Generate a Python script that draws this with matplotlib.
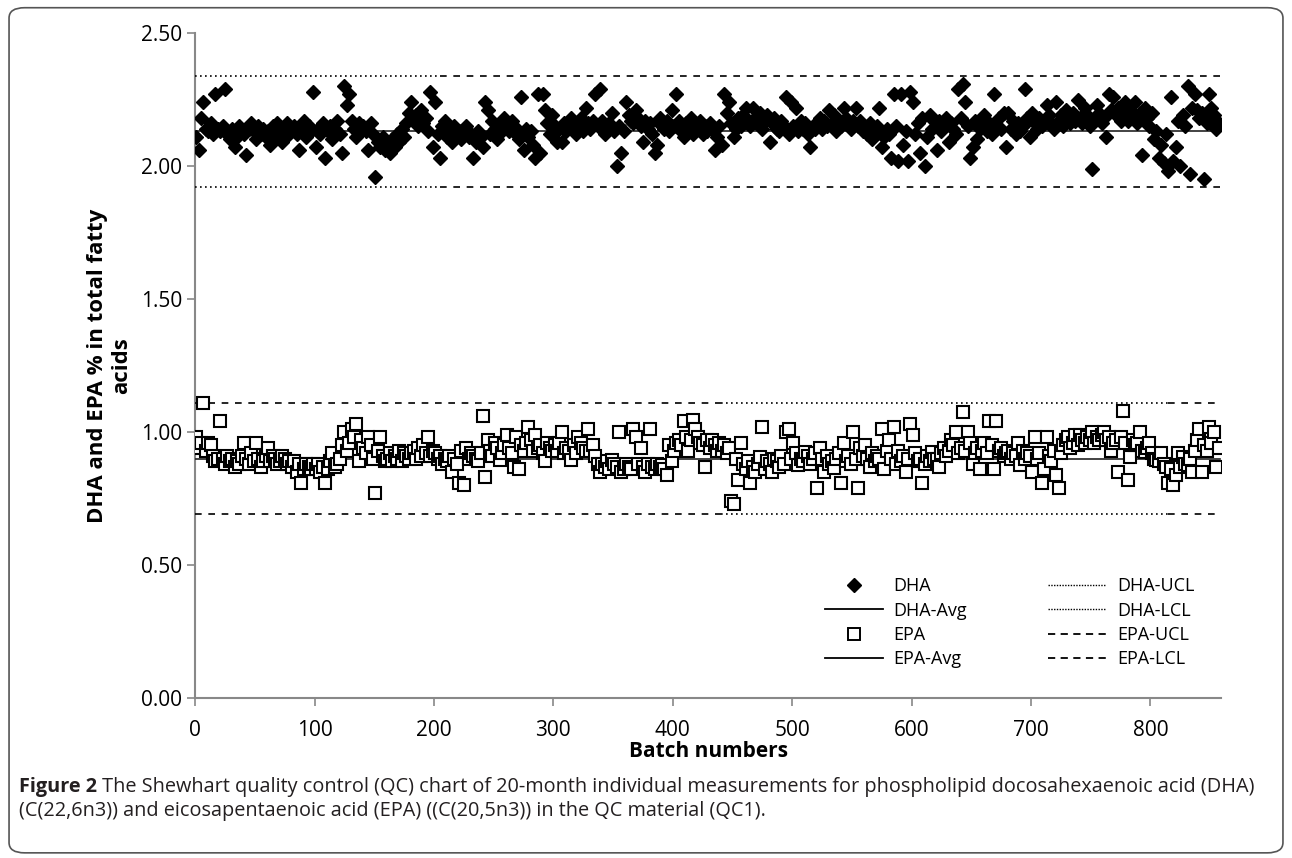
import numpy as np
import matplotlib.pyplot as plt
from matplotlib.lines import Line2D
from matplotlib.patches import FancyBboxPatch

plt.rcParams['font.family'] = ['Open Sans', 'DejaVu Sans']

# Batch numbers (every second batch)
batch = np.arange(1, 858, 2)

# DHA % in total fatty acids
dha = [
    2.11, 2.06, 2.18, 2.24, 2.14, 2.13, 2.16, 2.12, 2.27, 2.14,
    2.13, 2.15, 2.29, 2.12, 2.10, 2.14, 2.07, 2.11, 2.15, 2.13,
    2.12, 2.04, 2.14, 2.16, 2.13, 2.10, 2.15, 2.12, 2.14, 2.11,
    2.13, 2.08, 2.15, 2.11, 2.16, 2.12, 2.09, 2.14, 2.16, 2.12,
    2.14, 2.15, 2.12, 2.06, 2.13, 2.17, 2.11, 2.15, 2.13, 2.28,
    2.07, 2.14, 2.12, 2.16, 2.03, 2.13, 2.15, 2.10, 2.14, 2.17,
    2.12, 2.05, 2.30, 2.23, 2.27, 2.17, 2.14, 2.11, 2.16, 2.13,
    2.15, 2.13, 2.06, 2.16, 2.12, 1.96, 2.09, 2.07, 2.11, 2.06,
    2.08, 2.05, 2.10, 2.07, 2.12, 2.09, 2.14, 2.11, 2.16, 2.20,
    2.24, 2.17, 2.19, 2.15, 2.21, 2.16, 2.18, 2.13, 2.28, 2.07,
    2.24, 2.12, 2.03, 2.15, 2.17, 2.11, 2.13, 2.09, 2.15, 2.12,
    2.13, 2.10, 2.14, 2.15, 2.11, 2.12, 2.03, 2.09, 2.13, 2.11,
    2.07, 2.24, 2.21, 2.12, 2.17, 2.14, 2.10, 2.16, 2.13, 2.18,
    2.16, 2.13, 2.17, 2.15, 2.12, 2.10, 2.26, 2.06, 2.14, 2.11,
    2.13, 2.08, 2.03, 2.27, 2.05, 2.27, 2.21, 2.16, 2.12, 2.19,
    2.15, 2.09, 2.14, 2.09, 2.16, 2.13, 2.15, 2.18, 2.14, 2.12,
    2.15, 2.18, 2.13, 2.22, 2.16, 2.14, 2.17, 2.27, 2.15, 2.29,
    2.17, 2.12, 2.14, 2.16, 2.20, 2.13, 2.00, 2.15, 2.05, 2.13,
    2.24, 2.19, 2.17, 2.16, 2.21, 2.18, 2.15, 2.09, 2.17, 2.14,
    2.16, 2.12, 2.05, 2.08, 2.18, 2.15, 2.14, 2.17, 2.13, 2.21,
    2.15, 2.27, 2.17, 2.13, 2.11, 2.16, 2.14, 2.18, 2.12, 2.15,
    2.14, 2.17, 2.12, 2.15, 2.13, 2.16, 2.14, 2.06, 2.11, 2.15,
    2.08, 2.27, 2.20, 2.24, 2.16, 2.11, 2.14, 2.18, 2.15, 2.19,
    2.22, 2.17, 2.15, 2.22, 2.18, 2.16, 2.20, 2.14, 2.17, 2.19,
    2.09, 2.16, 2.18, 2.14, 2.13, 2.17, 2.15, 2.26, 2.12, 2.24,
    2.15, 2.22, 2.13, 2.17, 2.14, 2.16, 2.12, 2.07, 2.15, 2.14,
    2.16, 2.18, 2.14, 2.17, 2.15, 2.21, 2.16, 2.19, 2.13, 2.17,
    2.15, 2.22, 2.18, 2.16, 2.14, 2.17, 2.22, 2.15, 2.17, 2.13,
    2.14, 2.12, 2.16, 2.10, 2.13, 2.15, 2.22, 2.07, 2.11, 2.14,
    2.12, 2.03, 2.27, 2.15, 2.02, 2.27, 2.08, 2.13, 2.02, 2.28,
    2.24, 2.12, 2.16, 2.05, 2.18, 2.00, 2.11, 2.19, 2.14, 2.17,
    2.06, 2.17, 2.13, 2.15, 2.18, 2.09, 2.16, 2.14, 2.12, 2.29,
    2.18, 2.31, 2.24, 2.15, 2.03, 2.07, 2.17, 2.10, 2.14, 2.16,
    2.19, 2.13, 2.16, 2.12, 2.27, 2.15, 2.18, 2.14, 2.20, 2.07,
    2.20, 2.14, 2.17, 2.12, 2.16, 2.13, 2.15, 2.29, 2.18, 2.11,
    2.20, 2.16, 2.14, 2.18, 2.15, 2.17, 2.23, 2.19, 2.16, 2.14,
    2.24, 2.17, 2.19, 2.15, 2.21, 2.18, 2.16, 2.20, 2.17, 2.25,
    2.18, 2.16, 2.22, 2.19, 2.15, 1.99, 2.17, 2.23, 2.20, 2.16,
    2.18, 2.11, 2.27, 2.21, 2.26, 2.19, 2.22, 2.17, 2.20, 2.24,
    2.17, 2.21, 2.19, 2.24, 2.16, 2.20, 2.04, 2.22, 2.18, 2.15,
    2.20, 2.10, 2.13, 2.03, 2.08, 2.01, 2.12, 1.98, 2.26, 2.02,
    2.07, 2.17, 2.00, 2.19, 2.15, 2.30, 1.97, 2.22, 2.27, 2.21,
    2.18, 2.20, 1.95, 2.16, 2.27, 2.22, 2.19, 2.14, 2.16,
]

# EPA % in total fatty acids
epa = [
    0.98, 0.94, 0.96, 1.11, 0.93, 0.96, 0.95, 0.91, 0.89, 0.90,
    1.04, 0.90, 0.88, 0.91, 0.89, 0.90, 0.87, 0.89, 0.88, 0.91,
    0.96, 0.90, 0.88, 0.92, 0.89, 0.96, 0.90, 0.87, 0.89, 0.91,
    0.94, 0.89, 0.91, 0.90, 0.88, 0.89, 0.91, 0.90, 0.88, 0.89,
    0.87, 0.89, 0.85, 0.88, 0.81, 0.86, 0.88, 0.87, 0.86, 0.88,
    0.86, 0.88, 0.85, 0.87, 0.81, 0.86, 0.89, 0.92, 0.87, 0.88,
    0.90, 0.95, 1.00, 0.93, 0.96, 1.01, 0.98, 1.03, 0.89, 0.97,
    0.94, 0.92, 0.98, 0.95, 0.90, 0.77, 0.93, 0.98, 0.91, 0.89,
    0.90, 0.92, 0.89, 0.91, 0.90, 0.93, 0.89, 0.92, 0.91, 0.90,
    0.92, 0.93, 0.90, 0.94, 0.91, 0.95, 0.92, 0.98, 0.91, 0.93,
    0.92, 0.90, 0.91, 0.88, 0.90, 0.89, 0.91, 0.85, 0.90, 0.88,
    0.81, 0.93, 0.80, 0.94, 0.90, 0.92, 0.91, 0.90, 0.89, 0.92,
    1.06, 0.83, 0.97, 0.93, 0.91, 0.96, 0.94, 0.895, 0.92, 0.95,
    0.99, 0.94, 0.92, 0.87, 0.98, 0.86, 0.95, 0.93, 0.96, 1.02,
    0.97, 0.93, 0.99, 0.94, 0.95, 0.92, 0.89, 0.96, 0.94, 0.93,
    0.95, 0.93, 0.96, 1.00, 0.92, 0.94, 0.93, 0.895, 0.95, 0.92,
    0.98, 0.96, 0.94, 0.93, 1.01, 0.93, 0.95, 0.91, 0.88, 0.85,
    0.88, 0.87, 0.89, 0.86, 0.895, 0.88, 0.87, 1.00, 0.85, 0.86,
    0.88, 0.87, 0.86, 1.01, 0.98, 0.88, 0.94, 0.87, 0.85, 0.88,
    1.01, 0.87, 0.86, 0.88, 0.87, 0.875, 0.86, 0.84, 0.95, 0.89,
    0.93, 0.96, 0.97, 0.95, 1.04, 0.98, 0.93, 0.97, 1.045, 1.01,
    0.98, 0.96, 0.95, 0.87, 0.97, 0.94, 0.97, 0.95, 0.93, 0.96,
    0.93, 0.95, 0.92, 0.94, 0.74, 0.73, 0.90, 0.82, 0.96, 0.88,
    0.86, 0.89, 0.81, 0.87, 0.85, 0.88, 0.905, 1.02, 0.86, 0.89,
    0.88, 0.85, 0.90, 0.89, 0.87, 0.91, 0.88, 1.00, 1.01, 0.90,
    0.96, 0.92, 0.875, 0.90, 0.89, 0.925, 0.91, 0.88, 0.90, 0.92,
    0.79, 0.94, 0.90, 0.85, 0.91, 0.88, 0.89, 0.865, 0.90, 0.92,
    0.81, 0.96, 0.89, 0.91, 0.88, 1.00, 0.90, 0.79, 0.94, 0.91,
    0.95, 0.90, 0.87, 0.92, 0.89, 0.91, 0.90, 1.01, 0.86, 0.93,
    0.97, 0.90, 1.02, 0.88, 0.93, 0.89, 0.91, 0.85, 0.90, 1.03,
    0.99, 0.92, 0.89, 0.90, 0.81, 0.88, 0.91, 0.89, 0.925, 0.90,
    0.90, 0.87, 0.92, 0.94, 0.91, 0.93, 0.97, 0.95, 1.00, 0.92,
    0.94, 1.075, 0.93, 1.00, 0.96, 0.88, 0.92, 0.94, 0.86, 0.93,
    0.96, 0.92, 1.04, 0.95, 0.86, 1.04, 0.93, 0.94, 0.91, 0.92,
    0.93, 0.90, 0.92, 0.91, 0.96, 0.875, 0.93, 0.90, 0.92, 0.91,
    0.85, 0.98, 0.90, 0.92, 0.81, 0.86, 0.98, 0.91, 0.89, 0.93,
    0.84, 0.79, 0.92, 0.95, 0.97, 0.98, 0.94, 0.96, 0.99, 0.95,
    0.99, 0.97, 0.96, 0.98, 0.97, 1.00, 0.96, 0.98, 0.97, 0.99,
    1.00, 0.97, 0.98, 0.93, 0.96, 0.97, 0.85, 0.98, 1.08, 0.96,
    0.82, 0.905, 0.97, 0.95, 0.96, 1.00, 0.93, 0.925, 0.94, 0.96,
    0.92, 0.90, 0.895, 0.89, 0.92, 0.88, 0.87, 0.81, 0.86, 0.80,
    0.84, 0.92, 0.87, 0.905, 0.88, 0.875, 0.90, 0.85, 0.93, 0.97,
    1.01, 0.85, 0.95, 0.93, 1.02, 0.96, 1.00, 0.87, 0.94,
]

# Control limits
dha_avg, dha_ucl, dha_lcl = 2.13, 2.34, 1.92
epa_avg, epa_ucl, epa_lcl = 0.90, 1.11, 0.69
x_end = 858

fig = plt.figure(figsize=(12.92, 8.58), dpi=100)
ax = fig.add_axes([0.151, 0.1865, 0.794, 0.775])

# average lines
ax.plot([0, x_end], [dha_avg, dha_avg], color='#222222', linewidth=1.2, zorder=3)
ax.plot([0, x_end], [epa_avg, epa_avg], color='#222222', linewidth=1.2, zorder=3)

# limit lines (the dash pattern changes along the line as in the original)
dot = (0, (1, 2))
dash = (0, (4, 4))
for y in [dha_ucl, dha_lcl]:
    ax.plot([0, 205], [y, y], color='black', linewidth=1.2, linestyle=dot, zorder=3)
    ax.plot([205, x_end], [y, y], color='black', linewidth=1.2, linestyle=dash, zorder=3)
for y in [epa_ucl, epa_lcl]:
    ax.plot([0, 440], [y, y], color='black', linewidth=1.2, linestyle=dash, zorder=3)
    ax.plot([440, 815], [y, y], color='black', linewidth=1.2, linestyle=dot, zorder=3)
    ax.plot([815, x_end], [y, y], color='black', linewidth=1.2, linestyle=dash, zorder=3)

# data points
ax.plot(batch, dha, linestyle='none', marker='D', markersize=7.5,
        markerfacecolor='black', markeredgecolor='black', zorder=4)
ax.plot(batch, epa, linestyle='none', marker='s', markersize=8.5,
        markerfacecolor='white', markeredgecolor='black', markeredgewidth=1.5, zorder=4)

ax.set_xlim(0, 859)
ax.set_ylim(0, 2.5)
ax.set_xticks(range(0, 900, 100))
ax.set_yticks([0, 0.5, 1.0, 1.5, 2.0, 2.5])
ax.yaxis.set_major_formatter(plt.FormatStrFormatter('%.2f'))
ax.tick_params(labelsize=15, colors='#888888', labelcolor='black', length=6, width=1.2)
ax.tick_params(axis='x', pad=10)

for s in ['top', 'right']:
    ax.spines[s].set_visible(False)
for s in ['left', 'bottom']:
    ax.spines[s].set_color('#888888')
    ax.spines[s].set_linewidth(1.5)

ax.set_xlabel('Batch numbers', fontsize=15, fontweight='bold', labelpad=0)
ax.set_ylabel('DHA and EPA % in total fatty\nacids', fontsize=16, fontweight='bold', labelpad=6)

# legend
handles = [
    Line2D([], [], linestyle='none', marker='D', markersize=7, color='black'),
    Line2D([], [], color='black', linewidth=1.3),
    Line2D([], [], linestyle='none', marker='s', markersize=8, markerfacecolor='white',
           markeredgecolor='black', markeredgewidth=1.4),
    Line2D([], [], color='black', linewidth=1.3),
    Line2D([], [], color='black', linewidth=1, linestyle=(0, (1, 1))),
    Line2D([], [], color='black', linewidth=1, linestyle=(0, (1, 1))),
    Line2D([], [], color='black', linewidth=1.3, linestyle=(0, (4, 3))),
    Line2D([], [], color='black', linewidth=1.3, linestyle=(0, (4, 3))),
]
labels = ['DHA', 'DHA-Avg', 'EPA', 'EPA-Avg', 'DHA-UCL', 'DHA-LCL', 'EPA-UCL', 'EPA-LCL']
ax.legend(handles, labels, ncol=2, loc='lower right', bbox_to_anchor=(0.99, 0.02),
          frameon=False, fontsize=13, handlelength=3.2, columnspacing=4.5,
          labelspacing=0.35, handletextpad=0.6)

# rounded frame around the figure
frame = FancyBboxPatch((0.007, 0.006), 0.986, 0.985, transform=fig.transFigure,
                       boxstyle='round,pad=0,rounding_size=0.012', fill=False,
                       edgecolor='#555555', linewidth=1.2)
fig.patches.append(frame)

# caption
cap1 = (' The Shewhart quality control (QC) chart of 20-month individual measurements '
        'for phospholipid docosahexaenoic acid (DHA)')
cap2 = '(C(22,6n3)) and eicosapentaenoic acid (EPA) ((C(20,5n3)) in the QC material (QC1).'
t = fig.text(0.015, 1 - 792 / 858, 'Figure 2', fontsize=14.3, fontweight='bold', color='#231f20')
fig.canvas.draw()
bb = t.get_window_extent().transformed(fig.transFigure.inverted())
fig.text(bb.x1, 1 - 792 / 858, cap1, fontsize=14.3, color='#231f20')
fig.text(0.015, 1 - 816 / 858, cap2, fontsize=14.3, color='#231f20')

fig.savefig('out.png', dpi=100)
